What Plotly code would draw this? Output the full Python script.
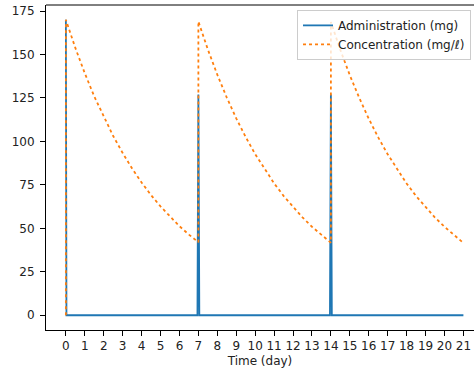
import plotly.graph_objects as go

# Administration (mg)
admin_time = [0, 0.03, 6.95, 7, 7.05, 13.95, 14, 14.05, 21]
admin_mg = [170, 0, 0, 127, 0, 0, 127, 0, 0]

# Concentration
conc_time = [0, 0, 0.5, 1, 1.5, 2, 2.5, 3, 3.5, 4, 4.5, 5, 5.5, 6, 6.5, 7,
             7, 7.5, 8, 8.5, 9, 9.5, 10, 10.5, 11, 11.5, 12, 12.5, 13, 13.5, 14,
             14, 14.5, 15, 15.5, 16, 16.5, 17, 17.5, 18, 18.5, 19, 19.5, 20, 20.5, 21]
conc_val = [0, 170, 153.8, 139.2, 125.9, 114.0, 103.1, 93.3, 84.4, 76.4, 69.1, 62.6, 56.6, 51.2, 46.4, 42.0,
            169, 152.9, 138.4, 125.2, 113.3, 102.5, 92.7, 83.9, 75.9, 68.7, 62.2, 56.3, 50.9, 46.1, 41.7,
            168.7, 152.6, 138.1, 125.0, 113.1, 102.3, 92.6, 83.8, 75.8, 68.6, 62.1, 56.2, 50.9, 46.0, 41.6]

x_ticks = list(range(0, 22))
y_ticks = [0, 25, 50, 75, 100, 125, 150, 175]

fig = go.Figure()
fig.add_trace(go.Scatter(x=admin_time, y=admin_mg, mode="lines", name="Administration (mg)",
                         line=dict(color="#1f77b4", width=1.8)))
fig.add_trace(go.Scatter(x=conc_time, y=conc_val, mode="lines", name="Concentration (mg/ℓ)",
                         line=dict(color="#ff7f0e", width=1.8, dash="dot")))

font = dict(family="DejaVu Sans", size=12, color="#222222")
fig.update_layout(
    width=474, height=370,
    margin=dict(l=46, r=0, t=5, b=40),
    paper_bgcolor="white", plot_bgcolor="white",
    font=font,
    showlegend=True,
    legend=dict(x=0.993, y=0.985, xanchor="right", yanchor="top",
                bgcolor="rgba(255,255,255,0.8)", bordercolor="#cccccc", borderwidth=1,
                font=font, itemwidth=30, tracegroupgap=0),
    xaxis=dict(range=[-1.05, 21.56], tickmode="array", tickvals=x_ticks,
               ticktext=[str(v) for v in x_ticks],
               showgrid=False, zeroline=False, showline=True, linecolor="black", linewidth=1,
               ticks="outside", ticklen=5, tickwidth=1, tickcolor="black",
               title=dict(text="Time (day)", font=font, standoff=4)),
    yaxis=dict(range=[-8.5, 178.5], tickmode="array", tickvals=y_ticks,
               showgrid=False, zeroline=False, showline=True, linecolor="black", linewidth=1,
               ticks="outside", ticklen=5, tickwidth=1, tickcolor="black",
               ticklabelstandoff=3),
)
fig.add_shape(type="line", xref="paper", yref="paper", x0=0, x1=1, y0=1, y1=1,
              line=dict(color="black", width=1))

fig.write_html("out.html", config={"displayModeBar": False})
